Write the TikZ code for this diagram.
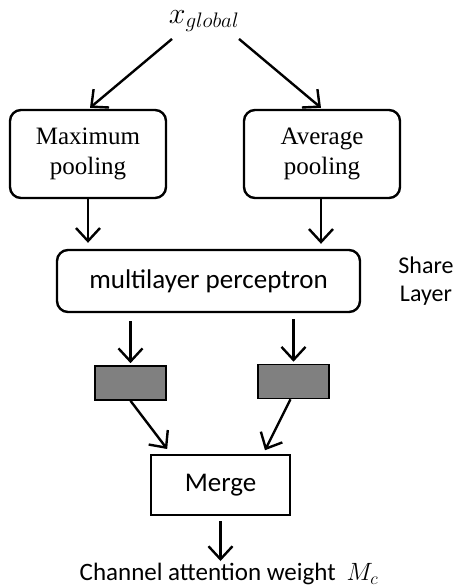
\documentclass[tikz,border=0pt]{standalone}
\usepackage{fix-cm}
\usepackage{fontspec}
\setmainfont{Liberation Serif}
\newfontfamily\calib{Carlito}
\usetikzlibrary{arrows.meta}
\definecolor{boxgray}{RGB}{128,128,128}
\begin{document}
\begin{tikzpicture}[x=1pt,y=-1pt,
  arr/.style={draw=black,line width=2.4pt,-{Straight Barb[length=13pt,width=24pt,line width=2.4pt]}},
  poolbox/.style={draw=black,line width=2.4pt,rounded corners=11pt,minimum width=156pt,minimum height=88pt,
     align=center,font=\fontsize{25}{30}\selectfont,inner sep=0pt},
  mlpbox/.style={draw=black,line width=2.4pt,rounded corners=11pt,minimum width=303pt,minimum height=62pt,
     font=\calib\fontsize{27}{30}\selectfont,inner sep=0pt},
  graybox/.style={draw=black,line width=1.6pt,fill=boxgray,minimum width=71pt,minimum height=34pt,inner sep=0pt},
  mergebox/.style={draw=black,line width=2.4pt,minimum width=139pt,minimum height=60pt,
     font=\calib\fontsize{27}{30}\selectfont,inner sep=0pt},
  lbl/.style={font=\calib\fontsize{25}{28}\selectfont,inner sep=0pt}]
\useasboundingbox (0,0) rectangle (457,588);
\fill[white] (0,0) rectangle (457,588);
\node[inner sep=0pt,font=\fontsize{30}{34}\selectfont] (xg) at (204,21) {$x_{global}$};
\node[poolbox] (max) at (88,154) {Maximum\\pooling};
\node[poolbox] (avg) at (322,154) {Average\\pooling};
\node[mlpbox] (mlp) at (208.5,281) {multilayer perceptron};
\node[lbl,align=center,font=\calib\fontsize{24}{28}\selectfont] (share) at (426,281) {Share\\Layer};
\node[graybox] (gl) at (130.5,383) {};
\node[graybox] (gr) at (293.5,381.5) {};
\node[mergebox] (merge) at (220.5,485) {Merge};
\node[lbl,anchor=north] (ct) at (229,563) {Channel attention weight\hspace{11pt}$M_c$};
\draw[arr] ([xshift=-32pt,yshift=-7pt]xg.south) -- ([xshift=2pt,yshift=1pt]max.north);
\draw[arr] ([xshift=35pt,yshift=-7pt]xg.south) -- ([xshift=-1pt,yshift=1pt]avg.north);
\draw[arr,shorten >=6pt] (max.south) -- (max.south |- mlp.north);
\draw[arr,shorten >=5pt] ([xshift=-1pt]avg.south) -- ([xshift=-1pt]avg.south |- mlp.north);
\draw[arr,shorten <=8pt,shorten >=2pt] (mlp.south -| gl.north) -- (gl.north);
\draw[arr,shorten <=6pt,shorten >=2pt] (mlp.south -| gr.north) -- (gr.north);
\draw[arr,shorten >=6pt] (gl.south) -- ([xshift=21pt]merge.north west);
\draw[arr,shorten >=4pt] ([xshift=-3pt]gr.south) -- ([xshift=-28pt]merge.north east);
\draw[arr,shorten <=5pt,shorten >=2pt] (merge.south) -- (merge.south |- ct.north);
\end{tikzpicture}
\end{document}
